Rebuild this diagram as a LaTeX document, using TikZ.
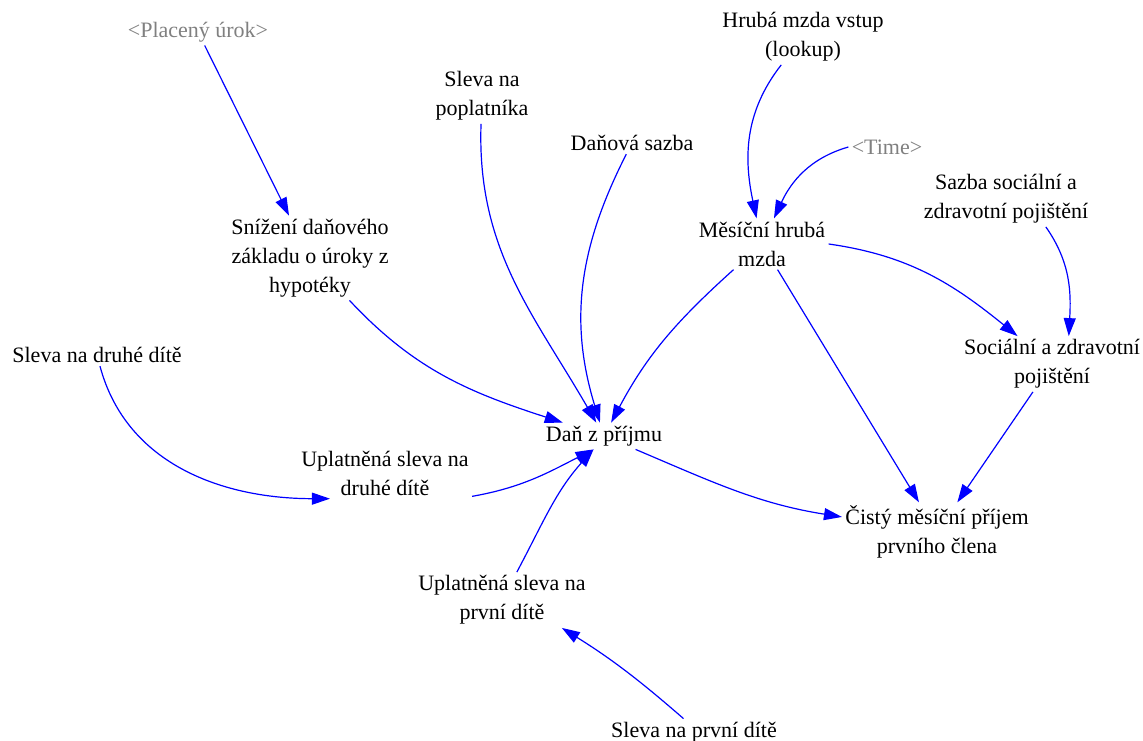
\documentclass[tikz,border=0pt]{standalone}
\usepackage{fontspec}
\setmainfont{Liberation Serif}
\usetikzlibrary{arrows.meta}
\definecolor{linkblue}{RGB}{0,0,255}
\definecolor{shadowgray}{RGB}{128,128,128}

\begin{document}
\begin{tikzpicture}[x=0.5pt, y=0.5pt,
    var/.style={align=center, inner sep=1.5pt, font=\fontsize{11}{14.5}\selectfont},
    shadow/.style={var, text=shadowgray},
    link/.style={color=linkblue, line width=0.6pt, -{Triangle[length=9pt,width=6pt]}}]
    \useasboundingbox (0,0) rectangle (1143,-740);
    \node[shadow] (PU) at (198,-32) {<Placený úrok>};
    \node[var] (SP) at (482,-96) {Sleva na\\poplatníka};
    \node[var] (DS) at (632,-143) {Daňová sazba};
    \node[var] (HV) at (803,-37) {Hrubá mzda vstup\\(lookup)};
    \node[shadow] (T) at (887,-147) {<Time>};
    \node[var] (SS) at (1006,-199) {Sazba sociální a\\zdravotní pojištění};
    \node[var] (MH) at (762,-244) {Měsíční hrubá\\mzda};
    \node[var] (SZ) at (310,-258) {Snížení daňového\\základu o úroky z\\hypotéky};
    \node[var] (SD) at (97,-355) {Sleva na druhé dítě};
    \node[var] (SOC) at (1052,-364) {Sociální a zdravotní\\pojištění};
    \node[var] (DP) at (604,-436) {Daň z příjmu};
    \node[var] (UD) at (385,-473) {Uplatněná sleva na\\druhé dítě};
    \node[var] (CP) at (937,-532) {Čistý měsíční příjem\\prvního člena};
    \node[var] (UP) at (502,-600) {Uplatněná sleva na\\první dítě};
    \node[var] (SPD) at (694,-732) {Sleva na první dítě};
    \path[link]
        (PU) edge (SZ)
        (SP) edge[out=-92, in=120] (DP)
        (DS) edge[out=-117, in=107] (DP)
        (MH) edge[out=-138, in=62] (DP)
        (SZ) edge[out=-47, in=162] (DP)
        (HV) edge[out=-128, in=102] (MH)
        (T.west) edge[out=196, in=65] (MH)
        (SS.-35) edge[out=-55, in=87] (SOC.59)
        (MH.east) edge[out=-8, in=141] (SOC)
        (MH) edge (CP)
        (SOC) edge (CP)
        (DP) edge[out=-23, in=171] (CP)
        (SD) edge[out=-75, in=180] (UD.205)
        (UD.-15) edge[out=10, in=207] (DP.-128)
        (UP) edge[out=62, in=228] (DP.-128)
        (SPD.128) edge[out=139, in=-32] (UP.-25);
\end{tikzpicture}
\end{document}
